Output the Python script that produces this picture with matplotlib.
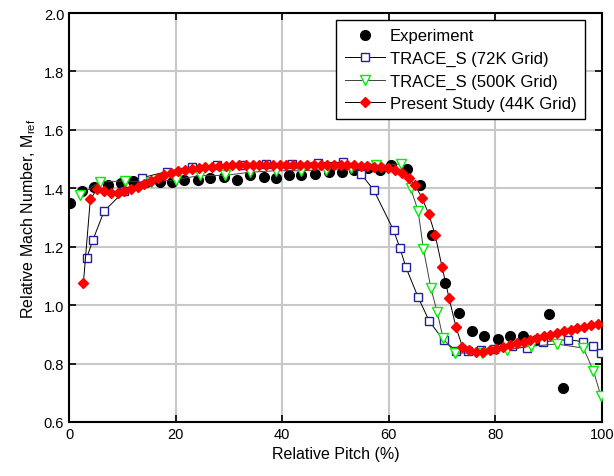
import matplotlib
matplotlib.use('Agg')
import matplotlib.pyplot as plt

plt.rcParams['font.family'] = ['Liberation Sans', 'DejaVu Sans']

# experiment (black dots)
exp_x = [0.2, 2.5, 4.7, 7.3, 9.7, 12.0, 14.5, 17.0, 19.4, 21.6, 24.2, 26.5, 29.1, 31.5,
         33.9, 36.5, 38.8, 41.3, 43.6, 46.2, 48.7, 51.3, 53.5, 56.1, 58.4, 60.5, 63.4,
         65.8, 68.1, 70.5, 73.1, 75.6, 77.8, 80.5, 82.7, 85.2, 87.7, 90.0, 92.7]
exp_y = [1.35, 1.39, 1.406, 1.41, 1.417, 1.426, 1.42, 1.423, 1.42, 1.43, 1.427, 1.435, 1.44, 1.43,
         1.445, 1.44, 1.435, 1.447, 1.444, 1.45, 1.457, 1.457, 1.464, 1.47, 1.464, 1.48, 1.466,
         1.41, 1.24, 1.075, 0.974, 0.91, 0.896, 0.885, 0.894, 0.896, 0.88, 0.97, 0.717]

# TRACE_S 72K grid (blue squares)
t72_x = [3.3, 4.5, 6.6, 10.3, 13.7, 18.3, 23.1, 27.8, 32.4, 37.0, 41.8, 46.7, 51.5, 54.8,
         57.2, 60.9, 62.1, 63.2, 65.5, 67.6, 70.3, 72.7, 74.8, 77.3, 79.7, 83.1, 85.9,
         89.0, 93.7, 96.4, 98.4, 99.8]
t72_y = [1.16, 1.224, 1.322, 1.389, 1.436, 1.457, 1.474, 1.478, 1.48, 1.482, 1.484, 1.488, 1.489, 1.449,
         1.393, 1.256, 1.195, 1.13, 1.027, 0.945, 0.879, 0.843, 0.843, 0.847, 0.85, 0.861, 0.853,
         0.875, 0.882, 0.875, 0.859, 0.836]

# TRACE_S 500K grid (green triangles)
t500_x = [2.0, 5.8, 10.6, 15.3, 20.0, 24.6, 29.3, 34.0, 38.8, 43.5, 48.2, 52.9, 57.6, 62.2,
          64.1, 65.5, 66.5, 67.9, 69.1, 70.2, 72.5, 77.4, 82.1, 86.6, 91.5, 96.5, 98.4, 99.8]
t500_y = [1.377, 1.422, 1.425, 1.42, 1.429, 1.444, 1.444, 1.455, 1.46, 1.46, 1.464, 1.468, 1.478, 1.483,
          1.40, 1.323, 1.192, 1.058, 0.975, 0.886, 0.836, 0.836, 0.847, 0.859, 0.867, 0.853, 0.775, 0.688]

# present study 44K grid (red diamonds)
ps_x = [2.7, 4.0, 5.2, 6.5, 7.8, 9.1, 10.3, 11.6, 12.9, 14.1, 15.4, 16.7, 17.9, 19.2, 20.5,
        21.8, 23.0, 24.3, 25.6, 26.8, 28.1, 29.4, 30.6, 31.9, 33.2, 34.5, 35.7, 37.0, 38.3,
        39.5, 40.8, 42.1, 43.3, 44.6, 45.9, 47.2, 48.4, 49.7, 51.0, 52.2, 53.5, 54.8, 56.0,
        57.3, 58.6, 59.9, 61.1, 62.4, 63.7, 64.9, 66.2, 67.5, 68.7, 70.0, 71.3, 72.6, 73.8,
        75.1, 76.4, 77.6, 78.9, 80.2, 81.4, 82.7, 84.0, 85.3, 86.5, 87.8, 89.1, 90.3, 91.6,
        92.9, 94.1, 95.4, 96.7, 98.0, 99.2]
ps_y = [1.075, 1.362, 1.396, 1.390, 1.385, 1.383, 1.390, 1.397, 1.405, 1.415, 1.425, 1.435, 1.445,
        1.452, 1.458, 1.463, 1.467, 1.470, 1.472, 1.474, 1.476, 1.477, 1.478, 1.479, 1.480, 1.480,
        1.481, 1.481, 1.481, 1.481, 1.481, 1.481, 1.481, 1.481, 1.480, 1.480, 1.480, 1.479, 1.479,
        1.478, 1.478, 1.477, 1.476, 1.474, 1.472, 1.468, 1.463, 1.452, 1.436, 1.412, 1.368, 1.312,
        1.240, 1.130, 1.025, 0.925, 0.858, 0.845, 0.838, 0.840, 0.845, 0.851, 0.857, 0.863, 0.869,
        0.875, 0.881, 0.887, 0.893, 0.899, 0.905, 0.911, 0.916, 0.921, 0.926, 0.931, 0.935]

fig = plt.figure(figsize=(6.14, 4.77), dpi=100)
ax = fig.add_axes([69/614, 1-423/477, (602-69)/614, (423-14)/477])

ax.plot(exp_x, exp_y, 'o', color='black', ms=7, label='Experiment', zorder=3)
ax.plot(t72_x, t72_y, '-s', color='black', lw=0.7, ms=5.5, mfc='white', mec='#2020a0',
        mew=1.0, label='TRACE_S (72K Grid)', zorder=4)
ax.plot(t500_x, t500_y, '-v', color='#404040', lw=0.7, ms=7.5, mfc='white', mec='#00ee00',
        mew=1.0, label='TRACE_S (500K Grid)', zorder=4)
ax.plot(ps_x, ps_y, '-D', color='black', lw=0.7, ms=5.5, mfc='red', mec='red',
        label='Present Study (44K Grid)', zorder=5)

ax.set_xlim(0, 100)
ax.set_ylim(0.6, 2.0)
ax.set_xticks([0, 20, 40, 60, 80, 100])
ax.set_yticks([0.6, 0.8, 1.0, 1.2, 1.4, 1.6, 1.8, 2.0])
ax.set_yticklabels(['0.6', '0.8', '1.0', '1.2', '1.4', '1.6', '1.8', '2.0'])
ax.grid(True, color='#c8c8c8', lw=1.5)
ax.set_axisbelow(True)
ax.tick_params(direction='in', length=5, width=1.2, labelsize=10.5,
               top=True, right=True, labeltop=False, labelright=False)
for s in ax.spines.values():
    s.set_linewidth(1.5)

ax.set_xlabel('Relative Pitch (%)', fontsize=11.5)
ax.set_ylabel('Relative Mach Number, M$\\mathregular{_{ref}}$', fontsize=11.5)

leg = ax.legend(loc='upper right', fontsize=12, frameon=True, fancybox=False,
                edgecolor='black', framealpha=1, handlelength=2.4, handletextpad=0.3,
                borderpad=0.5, labelspacing=0.45, borderaxespad=0.3,
                bbox_to_anchor=(0.977, 0.995))
leg.get_frame().set_linewidth(1.0)

fig.savefig('out.png', dpi=100)
